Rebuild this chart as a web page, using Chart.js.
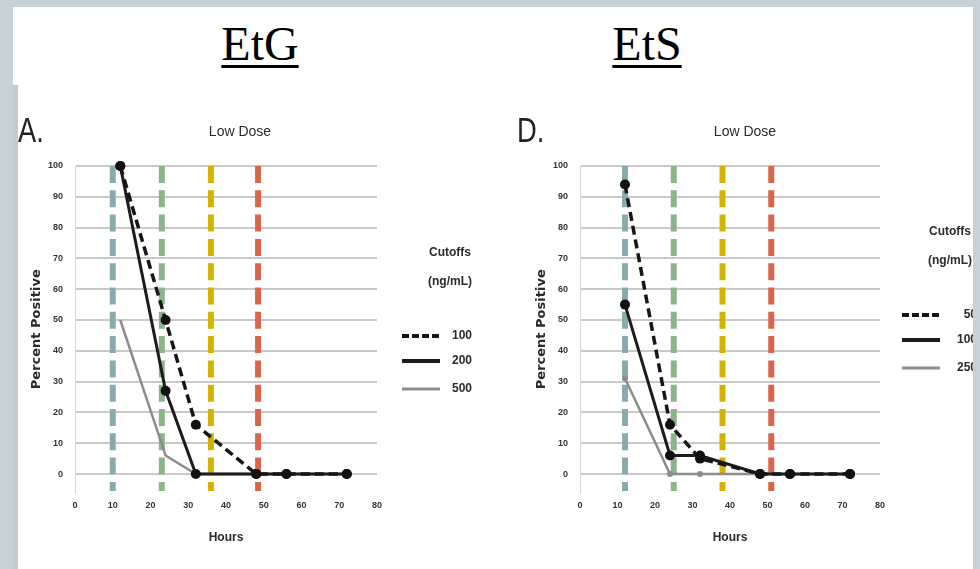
<!DOCTYPE html>
<html><head><meta charset="utf-8">
<script src="https://cdn.jsdelivr.net/npm/chart.js@4.4.1/dist/chart.umd.min.js"></script>
<style>
html,body{margin:0;padding:0;}
body{width:980px;height:569px;background:#c7d1d8;position:relative;overflow:hidden;}
#topbox{position:absolute;left:13px;top:7px;width:960px;height:78px;background:#fff;}
.big{position:absolute;top:16px;font-family:"Liberation Serif","Times New Roman",serif;font-size:48px;line-height:normal;text-decoration:underline;text-decoration-thickness:3px;text-underline-offset:5px;color:#000;transform:translateX(-50%);white-space:nowrap;}
#strip{position:absolute;left:13px;top:85px;width:5px;height:484px;background:#c9c9c9;}
#panel{position:absolute;left:18px;top:85px;width:955px;height:484px;background:#fff;overflow:hidden;}
#panel canvas{position:absolute;top:0;}
.letter{position:absolute;font-family:"Liberation Sans",sans-serif;font-size:35px;line-height:35px;color:#222;transform:scaleX(0.78);transform-origin:left top;}
</style></head>
<body>
<div id="topbox"></div>
<div class="big" style="left:260px">EtG</div>
<div class="big" style="left:647px">EtS</div>
<div id="strip"></div>
<div id="panel">
  <canvas id="c1" width="470" height="484" style="left:0px"></canvas>
  <canvas id="c2" width="470" height="484" style="left:505px"></canvas>
  <div class="letter" style="left:0px;top:27px">A.</div>
  <div class="letter" style="left:499px;top:27px">D.</div>
</div>
<script>
// ---------- data ----------
const hours = [12, 24, 32, 48, 56, 72];
const xTicks = [0, 10, 20, 30, 40, 50, 60, 70, 80];
const yTicks = [0, 10, 20, 30, 40, 50, 60, 70, 80, 90, 100];

const etgLabels = ['100', '200', '500'];
const etg100 = [100, 50, 16, 0, 0, 0];
const etg200 = [100, 27, 0, 0, 0, 0];
const etg500 = [50, 6, 0, 0, 0, 0];
const etgCutoffHours = [10, 23, 36, 48.5];

const etsLabels = ['50', '100', '250'];
const ets50 = [94, 16, 5, 0, 0, 0];
const ets100 = [55, 6, 6, 0, 0, 0];
const ets250 = [31, 0, 0, 0, 0, 0];
const etsCutoffHours = [12, 25, 38, 51];

const legendTitle = ['Cutoffs', '(ng/mL)'];
const chartTitle = 'Low Dose';
const xTitle = 'Hours';
const yTitle = 'Percent Positive';

// ---------- styles ----------
const cutoffColors = ['#8aabad', '#8db38a', '#d4b300', '#d9654a'];
const CUT_TOP = 100, CUT_BOTTOM = -5.5;
const sans = '"Liberation Sans", Arial, sans-serif';

const seriesStyles = [
  {borderColor: '#161616', borderWidth: 3.5, borderDash: [9, 5], pointRadius: 5, pointBackgroundColor: '#111', pointBorderColor: '#111', legendDash: [7, 3], legendWidth: 4},
  {borderColor: '#1c1c1c', borderWidth: 3, borderDash: [], pointRadius: 5, pointBackgroundColor: '#111', pointBorderColor: '#111', legendDash: [], legendWidth: 4},
  {borderColor: '#8c8c8c', borderWidth: 2.5, borderDash: [], pointRadius: 0, pointBackgroundColor: '#8c8c8c', pointBorderColor: '#8c8c8c', legendDash: [], legendWidth: 3}
];

function seriesDs(label, values, style) {
  return Object.assign({
    label: label,
    data: hours.map((h, i) => ({x: h, y: values[i]})),
    fill: false, tension: 0, clip: false, isSeries: true, pointBorderWidth: 0
  }, style);
}
function cutoffDs(h, i) {
  return {
    label: 'cutoff' + i,
    data: [{x: h, y: CUT_TOP}, {x: h, y: CUT_BOTTOM}],
    borderColor: cutoffColors[i], borderWidth: 6, borderDash: [17, 7.3],
    pointRadius: 0, fill: false, borderCapStyle: 'butt'
  };
}

const cutoffLegend = {
  id: 'cutoffLegend',
  afterDraw(chart, args, opts) {
    const {ctx, chartArea} = chart;
    const x0 = chartArea.right + opts.dx;
    const y0 = chartArea.top + opts.dy;
    ctx.save();
    ctx.fillStyle = '#2a2a2a';
    ctx.textBaseline = 'middle';
    ctx.font = 'bold 12px ' + sans;
    ctx.textAlign = 'center';
    opts.title.forEach((t, i) => ctx.fillText(t, x0 + 48, y0 + i * 29));
    const series = chart.data.datasets.filter(d => d.isSeries);
    series.forEach((d, i) => {
      const y = y0 + opts.items[i];
      ctx.beginPath();
      ctx.setLineDash(d.legendDash);
      ctx.lineWidth = d.legendWidth;
      ctx.strokeStyle = d.borderColor;
      ctx.moveTo(x0, y); ctx.lineTo(x0 + 38, y); ctx.stroke();
      ctx.setLineDash([]);
      ctx.textAlign = 'right';
      ctx.font = 'bold 12px ' + sans;
      ctx.fillText(d.label, x0 + opts.textRight, y);
    });
    ctx.restore();
  }
};

function makeChart(id, labels, values, cutoffs, dummyWidth, legendDx, legendDy, textRight, grayRadius) {
  const datasets = values.map((v, i) => {
    const st = Object.assign({}, seriesStyles[i]);
    if (i === 2) st.pointRadius = grayRadius;
    return seriesDs(labels[i], v, st);
  });
  cutoffs.forEach((h, i) => datasets.push(cutoffDs(h, i)));
  return new Chart(document.getElementById(id), {
    type: 'line',
    data: {datasets: datasets},
    plugins: [cutoffLegend],
    options: {
      responsive: false, animation: false, devicePixelRatio: 1,
      layout: {padding: {left: 0, right: 26, top: 0, bottom: 0}},
      plugins: {
        legend: {display: false},
        tooltip: {enabled: false},
        title: {display: true, text: chartTitle, color: '#2a2a2a',
          font: {family: sans, size: 14, weight: 'normal'},
          padding: {top: 38.6, bottom: 25.6}},
        cutoffLegend: {title: legendTitle, dx: legendDx, dy: legendDy, items: [83, 108, 136], textRight: textRight}
      },
      scales: {
        x: {
          type: 'linear', min: 0, max: 80,
          afterBuildTicks: s => { s.ticks = xTicks.map(v => ({value: v})); },
          afterFit: s => { s.height = 76.5; },
          grid: {display: false, drawTicks: false},
          border: {display: false},
          ticks: {padding: 8, color: '#333', font: {family: sans, size: 9, weight: 'bold'}, maxRotation: 0},
          title: {display: true, text: xTitle, color: '#2a2a2a', font: {family: sans, size: 12, weight: 'bold'}, padding: {top: 0, bottom: 23.8}}
        },
        y: {
          type: 'linear', min: -6, max: 100,
          afterBuildTicks: s => { s.ticks = yTicks.map(v => ({value: v})); },
          afterFit: s => { s.width = 57; },
          grid: {color: '#c9c9c9', lineWidth: 2, drawTicks: false},
          border: {display: true, color: '#d6d6d6', width: 1},
          ticks: {padding: 12, color: '#333', font: {family: sans, size: 9, weight: 'bold'}},
          title: {display: true, text: yTitle, color: '#2a2a2a', font: {family: '"DejaVu Sans", sans-serif', size: 13, weight: 'bold'}, padding: {top: 10.5, bottom: 0}}
        },
        yR: {
          type: 'linear', position: 'right', display: true,
          grid: {display: false}, border: {display: false}, ticks: {display: false},
          afterFit: s => { s.width = dummyWidth; }
        }
      }
    }
  });
}

makeChart('c1', etgLabels, [etg100, etg200, etg500], etgCutoffHours, 85, 25, 87, 70, 0);
makeChart('c2', etsLabels, [ets50, ets100, ets250], etsCutoffHours, 87, 22, 66, 75, 3);
</script>
</body></html>
